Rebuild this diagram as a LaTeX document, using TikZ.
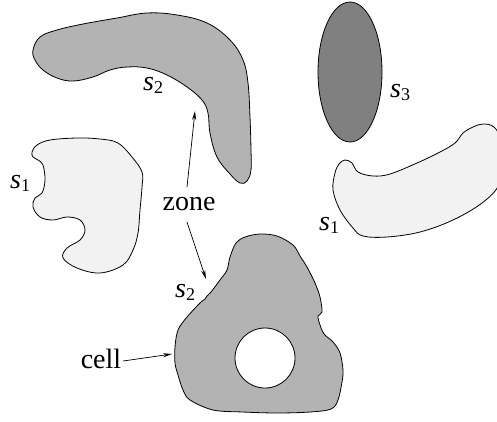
\documentclass[tikz,border=0pt]{standalone}
\usepackage{fontspec}
\setmainfont{Liberation Serif}
\usetikzlibrary{arrows.meta}
\newcommand\lbl[2]{\textit{#1}\raisebox{-3pt}{\fontsize{18}{18}\selectfont #2}}
\definecolor{midgray}{HTML}{B3B3B3}
\definecolor{darkgray}{HTML}{808080}
\definecolor{lightgray}{HTML}{F2F2F2}
\tikzset{
  outline/.style={draw=black,line width=0.8pt},
  txt/.style={inner sep=0pt,font=\fontsize{28}{32}\selectfont},
  pointer/.style={line width=0.7pt,-{Stealth[length=9pt,width=4pt]}}
}
\begin{document}
\begin{tikzpicture}[x=1pt,y=-1pt]
\useasboundingbox (0,0) rectangle (497,421);

% top boomerang s2
\filldraw[outline,fill=midgray] plot[smooth cycle,tension=0.65] coordinates{
(33,50) (40,37) (57,30) (83,24) (117,18) (147,13) (177,15) (207,23) (230,40)
(243,60) (248,83) (250,117) (251,150) (251,170) (247,181) (240,183) (230,174)
(217,157) (210,133) (208,113) (202,100) (187,87) (167,75) (147,68) (127,67)
(110,70) (93,77) (73,81) (57,78) (43,70) (35,60)};

% ellipse s3
\filldraw[outline,fill=darkgray] (350,72) ellipse [x radius=32,y radius=70];

% left s1
\filldraw[outline,fill=lightgray] plot[smooth cycle,tension=0.6] coordinates{
(32,152) (37,145) (50,140) (77,138) (100,139) (118,143) (132,157) (142,172)
(142,187) (140,210) (138,233) (133,250) (123,265) (100,273) (77,268) (63,258)
(67,248) (80,240) (85,230) (80,220) (67,217) (53,220) (40,217) (33,207)
(35,198) (42,193) (45,180) (43,165) (38,160) (33,157)};

% right s1
\filldraw[outline,fill=lightgray] plot[smooth cycle,tension=0.6] coordinates{
(345,160) (352,163) (358,172) (373,176) (390,174) (417,163) (440,152)
(455,143) (463,133) (473,127) (483,124) (494,127) (501,140) (503,162)
(499,185) (482,203) (453,220) (420,232) (387,237) (363,236) (353,228)
(340,210) (333,190) (335,173) (339,164)};

% cell
\filldraw[outline,fill=midgray,even odd rule] plot[smooth cycle,tension=0.55] coordinates{
(230,257) (236,243) (245,237) (260,234) (277,236) (293,245) (300,256)
(307,267) (315,283) (320,297) (322,312) (318,316) (320,325) (324,334)
(333,342) (340,353) (343,370) (342,382) (338,400) (331,409) (310,412)
(277,413) (243,412) (213,410) (190,400) (183,390) (178,375) (175,363)
(175,347) (178,330) (187,317) (200,303) (205,299) (207,296) (211,292)
(220,280) (227,270)}
(265,358) circle [radius=30];

% labels
\node[txt,anchor=base west] (s2a) at (143,90) {\lbl{s}{2}};
\node[txt,anchor=base west] (s1a) at (10,188) {\lbl{s}{1}};
\node[txt,anchor=base west] (s3) at (390,97) {\lbl{s}{3}};
\node[txt,anchor=base west] (s1b) at (319,230) {\lbl{s}{1}};
\node[txt,anchor=base west] (s2b) at (175,297) {\lbl{s}{2}};
\node[txt,anchor=base] (zone) at (189,210) {zone};
\node[txt,anchor=base] (cell) at (101,368) {cell};

% arrows
\coordinate (zu) at (187,187);
\coordinate (zut) at (195,111);
\coordinate (zd) at (187,222);
\coordinate (zdt) at (206,279);
\coordinate (cs) at (123,361);
\coordinate (ct) at (172,354);
\draw[pointer] (zu) -- (zut);
\draw[pointer] (zd) -- (zdt);
\draw[pointer] (cs) -- (ct);
\end{tikzpicture}
\end{document}
